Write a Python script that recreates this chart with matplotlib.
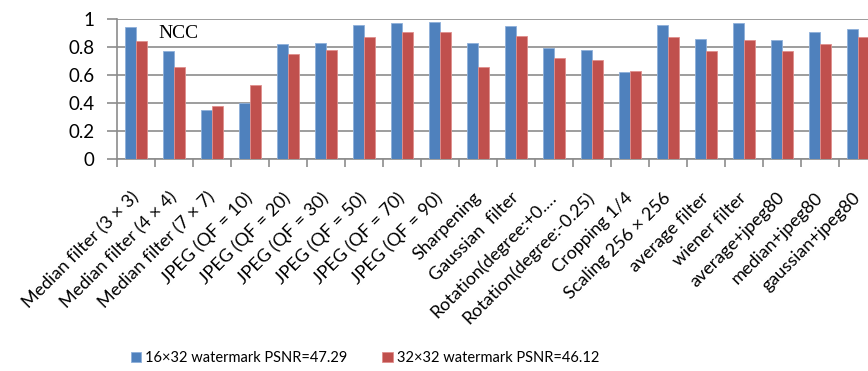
import numpy as np
import matplotlib.pyplot as plt

attacks = ["Median filter (3 × 3)", "Median filter (4 × 4)", "Median filter (7 × 7)",
           "JPEG (QF = 10)", "JPEG (QF = 20)", "JPEG (QF = 30)", "JPEG (QF = 50)",
           "JPEG (QF = 70)", "JPEG (QF = 90)", "Sharpening", "Gaussian  filter",
           "Rotation(degree:+0.…", "Rotation(degree:-0.25)", "Cropping 1/4",
           "Scaling 256 × 256", "average filter", "wiener filter",
           "average+jpeg80", "median+jpeg80", "gaussian+jpeg80"]
ncc_16x32 = [0.94, 0.77, 0.35, 0.40, 0.82, 0.83, 0.96, 0.97, 0.98, 0.83,
             0.95, 0.79, 0.78, 0.62, 0.96, 0.86, 0.97, 0.85, 0.91, 0.93]
ncc_32x32 = [0.84, 0.66, 0.38, 0.53, 0.75, 0.78, 0.87, 0.91, 0.91, 0.66,
             0.88, 0.72, 0.71, 0.63, 0.87, 0.77, 0.85, 0.77, 0.82, 0.87]
legend_labels = ["16×32 watermark PSNR=47.29", "32×32 watermark PSNR=46.12"]

plt.rcParams['font.family'] = ['Lato', 'DejaVu Sans']

fig = plt.figure(figsize=(8.68, 3.71), dpi=100)
# axes run off the right edge, the last group is clipped
ax = fig.add_axes([117 / 868, 1 - 159 / 371, 760 / 868, 140 / 371])

x = np.arange(len(attacks))
w = 0.29
b1 = ax.bar(x - w / 2, ncc_16x32, w, color='#4F81BD', edgecolor='#8FB0DA', linewidth=0.6,
            label=legend_labels[0], zorder=3)
b2 = ax.bar(x + w / 2, ncc_32x32, w, color='#C0504D', edgecolor='#E08F8D', linewidth=0.6,
            label=legend_labels[1], zorder=3)

ax.set_xlim(-0.5, len(attacks) - 0.5)
ax.set_ylim(0, 1)
ax.set_yticks([0, 0.2, 0.4, 0.6, 0.8, 1])
ax.set_yticklabels(['0', '0.2', '0.4', '0.6', '0.8', '1'], fontsize=13.5)
ax.yaxis.grid(True, color='#8C8C8C', linewidth=1.2, zorder=0)

for s in ['top', 'right']:
    ax.spines[s].set_visible(False)
for s in ['left', 'bottom']:
    ax.spines[s].set_color('#8C8C8C')
    ax.spines[s].set_linewidth(1.2)

ax.tick_params(axis='y', length=7, width=1.2, color='#8C8C8C', pad=9)
ax.set_xticks(np.arange(len(attacks) + 1) - 0.5, minor=False)
ax.set_xticklabels([])
ax.tick_params(axis='x', which='major', length=6, width=1.2, color='#8C8C8C')
ax.set_xticks(x, minor=True)
ax.set_xticklabels(attacks, minor=True, rotation=45, ha='right', va='center',
                   rotation_mode='anchor', fontsize=13)
ax.tick_params(axis='x', which='minor', length=0, pad=26)

ax.text(0.6, 0.9, 'NCC', family='Liberation Serif', fontsize=14, va='center')

fig.legend(handles=[b1, b2], loc='center', bbox_to_anchor=(365 / 868, 1 - 358 / 371),
           ncol=2, frameon=False, fontsize=10.5, handlelength=0.7, handleheight=0.7,
           handletextpad=0.3, columnspacing=2.4)

plt.savefig('out.png')
